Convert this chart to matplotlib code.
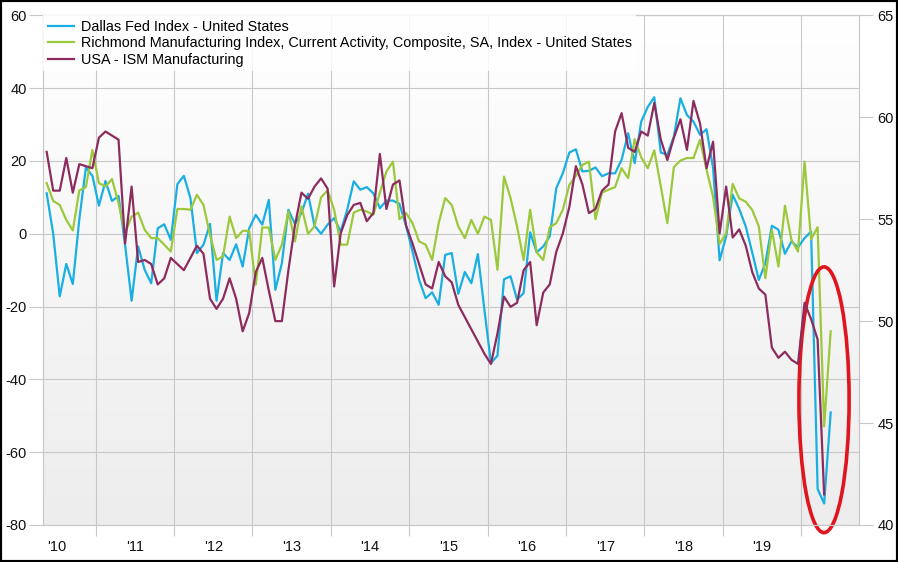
import matplotlib
matplotlib.use("Agg")
import matplotlib.pyplot as plt
import numpy as np
from matplotlib.colors import LinearSegmentedColormap
from matplotlib.patches import Ellipse, Rectangle

plt.rcParams['font.family'] = ['Liberation Sans', 'DejaVu Sans']
plt.rcParams['axes.unicode_minus'] = False

# monthly data, May 2010 .. May 2020
dallas = [11.1, 0.0, -17.2, -8.3, -13.8, 4.0, 18.2, 15.9, 7.7, 14.5, 9.0, 10.4,
          -3.0, -18.4, -3.5, -9.9, -13.6, 1.5, 2.6, -1.7, 13.6, 15.9, 9.8, -5.3,
          -3.0, 2.7, -18.4, -5.3, -7.2, -2.9, -9.0, 1.5, 5.2, 2.5, 9.3, -15.4,
          -8.1, 6.6, 2.7, 5.7, 11.0, 2.2, 0.0, 2.5, 4.3, 0.6, 6.6, 14.4,
          12.1, 12.8, 11.1, 7.0, 9.1, 9.1, 8.2, 2.2, -4.9, -12.6, -17.7, -16.1,
          -19.5, -5.8, -5.3, -16.5, -10.5, -13.6, -5.6, -20.9, -35.5, -33.5, -12.5, -11.7,
          -18.1, -16.3, 0.4, -5.1, -3.5, -0.7, 12.5, 16.6, 22.3, 23.2, 17.1, 17.3,
          18.2, 15.8, 16.6, 16.6, 20.3, 27.6, 19.4, 30.8, 34.8, 37.5, 22.3, 21.7,
          26.7, 37.2, 32.6, 30.8, 27.2, 28.7, 18.0, -7.3, -0.7, 10.7, 6.8, 2.0,
          -5.2, -12.7, -8.1, 2.2, 1.1, -5.5, -2.1, -3.7, -1.2, 0.6, -70.1, -74.1,
          -49.1]

richmond = [13.9, 9.0, 7.9, 3.8, 0.9, 11.9, 12.8, 23.0, 13.9, 13.0, 15.0, 8.4,
            0.2, 4.7, 5.8, 1.1, -1.2, -1.2, -3.0, -4.9, 6.8, 6.8, 6.6, 10.7,
            7.9, -0.3, -7.2, -6.2, 4.7, -1.2, 0.8, 0.8, -14.0, 1.7, 1.7, -7.2,
            -3.0, 6.1, -2.1, 7.5, 0.0, 2.0, 10.0, 11.9, 6.6, -3.0, -3.0, 5.8,
            6.6, 6.1, 5.2, 11.3, 17.1, 19.8, 4.0, 5.7, 2.9, -2.1, -3.0, -7.2,
            2.9, 9.8, 7.9, 2.0, -1.2, 3.8, 0.0, 4.7, 3.8, -9.9, 15.7, 9.8,
            2.0, -7.2, 6.6, -5.1, -7.2, 1.8, 2.9, 6.6, 13.4, 15.9, 18.9, 19.8,
            4.0, 11.3, 12.1, 12.8, 18.0, 15.3, 26.0, 21.0, 18.0, 22.9, 13.0, 2.9,
            18.3, 20.1, 20.8, 20.8, 25.8, 17.6, 10.1, -2.8, 0.2, 13.7, 9.7, 8.8,
            6.5, 2.0, -12.2, 1.1, -9.0, 7.7, -1.7, -4.9, 19.8, -1.5, 1.8, -52.9,
            -26.8]

# May 2010 .. Apr 2020
ism = [58.3, 56.4, 56.4, 58.0, 56.3, 57.7, 57.6, 57.5, 59.0, 59.3, 59.1, 58.9,
       53.8, 56.6, 52.9, 53.0, 52.8, 51.8, 52.1, 53.1, 52.8, 52.5, 53.1, 53.7,
       53.3, 51.1, 50.6, 51.1, 52.1, 51.1, 49.5, 50.4, 52.4, 53.1, 51.5, 50.0,
       50.0, 52.5, 54.7, 56.3, 56.0, 56.6, 57.0, 56.5, 51.7, 54.3, 55.2, 55.7,
       55.8, 54.9, 55.3, 58.2, 55.5, 56.7, 56.9, 54.7, 53.8, 52.8, 51.8, 51.6,
       52.9, 52.2, 51.9, 50.8, 50.2, 49.6, 49.0, 48.4, 47.9, 49.4, 51.2, 50.7,
       50.9, 52.5, 52.9, 49.8, 51.4, 51.8, 53.4, 54.3, 55.6, 57.6, 56.7, 55.3,
       55.5, 56.4, 56.7, 59.3, 60.2, 58.5, 58.3, 59.3, 59.1, 60.7, 58.9, 57.9,
       59.0, 59.9, 58.4, 60.8, 59.7, 57.5, 58.8, 54.3, 56.6, 54.1, 54.5, 53.7,
       52.4, 51.6, 51.3, 48.7, 48.2, 48.5, 48.1, 47.9, 50.9, 50.1, 49.1, 41.5]

year_labels = ["'10", "'11", "'12", "'13", "'14", "'15", "'16", "'17", "'18", "'19"]

names = ['Dallas Fed Index - United States',
         'Richmond Manufacturing Index, Current Activity, Composite, SA, Index - United States',
         'USA - ISM Manufacturing']
c_blue = '#1aafe3'
c_green = '#9cc83c'
c_purple = '#8c2c5e'
grid_c = '#c8c8c8'

# mid-month positions as fractional years, starting May 2010
t = 2010 + (4 + np.arange(len(dallas)) + 0.5) / 12
t_ism = t[:len(ism)]

fig = plt.figure(figsize=(8.98, 5.62), dpi=100)
ax = fig.add_axes([43.3 / 898, 37 / 562, 816 / 898, 509.7 / 562])
ax2 = ax.twinx()

xmin, xmax = 2010.332, 2020.74
ax.set_xlim(xmin, xmax)
ax.set_ylim(-80, 60)
ax2.set_ylim(40, 65)

# light vertical gradient background
cmap = LinearSegmentedColormap.from_list('bg', ['#ffffff', '#ededed'])
ax.imshow(np.linspace(0, 1, 256).reshape(-1, 1), cmap=cmap, aspect='auto',
          extent=[xmin, xmax, -80, 60], zorder=0, origin='upper')

l1, = ax.plot(t, dallas, color=c_blue, lw=1.6, zorder=3)
l2, = ax.plot(t, richmond, color=c_green, lw=1.6, zorder=3)
l3, = ax2.plot(t_ism, ism, color=c_purple, lw=1.6, zorder=3)

# axes, ticks, grid
ax.set_yticks(np.arange(-80, 61, 20))
ax2.set_yticks(np.arange(40, 66, 5))
ax.set_xticks(np.arange(2010.5, 2020, 1))
ax.set_xticklabels(year_labels)
ax.set_xticks(np.arange(2011, 2021, 1), minor=True)
ax.tick_params(axis='x', which='major', length=0, pad=11, labelsize=10.5, colors='#111111')
ax.tick_params(axis='x', which='minor', length=8, color=grid_c, width=0.8)
ax.tick_params(axis='y', length=10, color=grid_c, width=0.8, pad=2, labelsize=10.5,
               labelcolor='#111111')
ax2.tick_params(axis='y', length=10, color=grid_c, width=0.8, pad=3, labelsize=10.5,
                labelcolor='#111111')
ax.grid(axis='y', which='major', color=grid_c, lw=0.8)
ax.grid(axis='x', which='minor', color=grid_c, lw=0.8)
ax.set_axisbelow(True)
for a in (ax, ax2):
    for s in a.spines.values():
        s.set_color(grid_c)
        s.set_linewidth(0.8)

leg = ax2.legend([l1, l2, l3], names, loc='upper left', bbox_to_anchor=(0, 1),
                 borderaxespad=0, borderpad=0.3, handlelength=1.8, handletextpad=0.5,
                 labelspacing=0.18, fontsize=10.4, frameon=True, fancybox=False)
leg.get_frame().set_facecolor('white')
leg.get_frame().set_edgecolor('none')
leg.get_frame().set_alpha(0.85)

# red ellipse highlighting the 2020 drop
ell = Ellipse((2020.29, -45.6), 0.64, 73, fill=False, edgecolor='#e0161e',
              lw=2.6, zorder=6, clip_on=False)
ax.add_patch(ell)

# black border round the image
fig.patches.append(Rectangle((0, 0), 1, 1, transform=fig.transFigure, fill=False,
                             edgecolor='black', lw=3))

fig.savefig('out.png', dpi=100)
